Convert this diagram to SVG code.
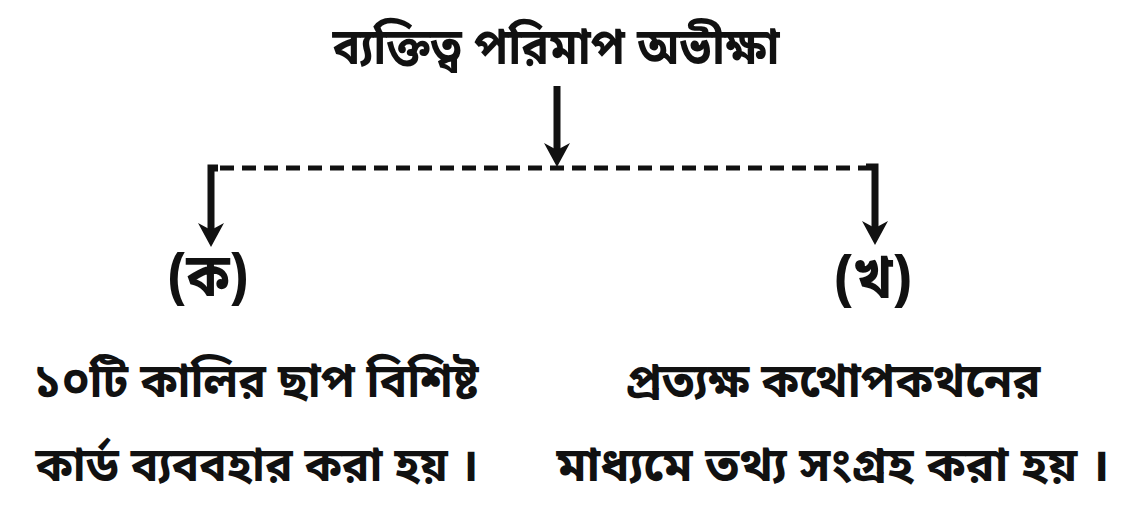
<svg xmlns="http://www.w3.org/2000/svg" width="1134" height="510" viewBox="0 0 1134 510">
<style>
text{font-family:"Noto Sans Bengali","Noto Serif Bengali","Noto Sans","DejaVu Sans",sans-serif;fill:#111;font-weight:bold}
.t{font-size:50px}
.b{font-size:47px}
.lbl{font-size:60px}
.ln{stroke:#111;stroke-width:7;fill:none}
.dash{stroke:#111;stroke-width:5;stroke-dasharray:14 8;fill:none}
</style>
<defs>
<marker id="ah" viewBox="0 -13 24 26" refX="10" refY="0" markerWidth="24" markerHeight="26" markerUnits="userSpaceOnUse" orient="auto">
<path d="M0,-13 L24,0 L0,13 L7,0 Z" fill="#111"/>
</marker>
</defs>
<rect width="1134" height="510" fill="#fff"/>
<g id="root"><text class="t" x="556" y="64" text-anchor="middle" textLength="447" lengthAdjust="spacingAndGlyphs">ব্যক্তিত্ব পরিমাপ অভীক্ষা</text></g>
<g id="connectors">
<line class="ln" x1="557" y1="86" x2="557" y2="153" marker-end="url(#ah)"/>
<line class="dash" x1="220" y1="168" x2="866" y2="168"/>
<polyline class="ln" points="218,168 211,168 211,233" marker-end="url(#ah)"/>
<polyline class="ln" points="866,167 875,167 875,231" marker-end="url(#ah)"/>
</g>
<g id="nodeA">
<text class="lbl" x="208" y="296" text-anchor="middle" textLength="80" lengthAdjust="spacingAndGlyphs">(ক)</text>
<text class="b" x="256" y="397" text-anchor="middle" textLength="445" lengthAdjust="spacingAndGlyphs">১০টি কালির ছাপ বিশিষ্ট</text>
<text class="b" x="257" y="481" text-anchor="middle" textLength="443" lengthAdjust="spacingAndGlyphs">কার্ড ব্যববহার করা হয় ।</text>
</g>
<g id="nodeB">
<text class="lbl" x="873" y="298" text-anchor="middle" textLength="77" lengthAdjust="spacingAndGlyphs">(খ)</text>
<text class="b" x="833" y="397" text-anchor="middle" textLength="415" lengthAdjust="spacingAndGlyphs">প্রত্যক্ষ কথোপকথনের</text>
<text class="b" x="833" y="481" text-anchor="middle" textLength="553" lengthAdjust="spacingAndGlyphs">মাধ্যমে তথ্য সংগ্রহ করা হয় ।</text>
</g>
</svg>
